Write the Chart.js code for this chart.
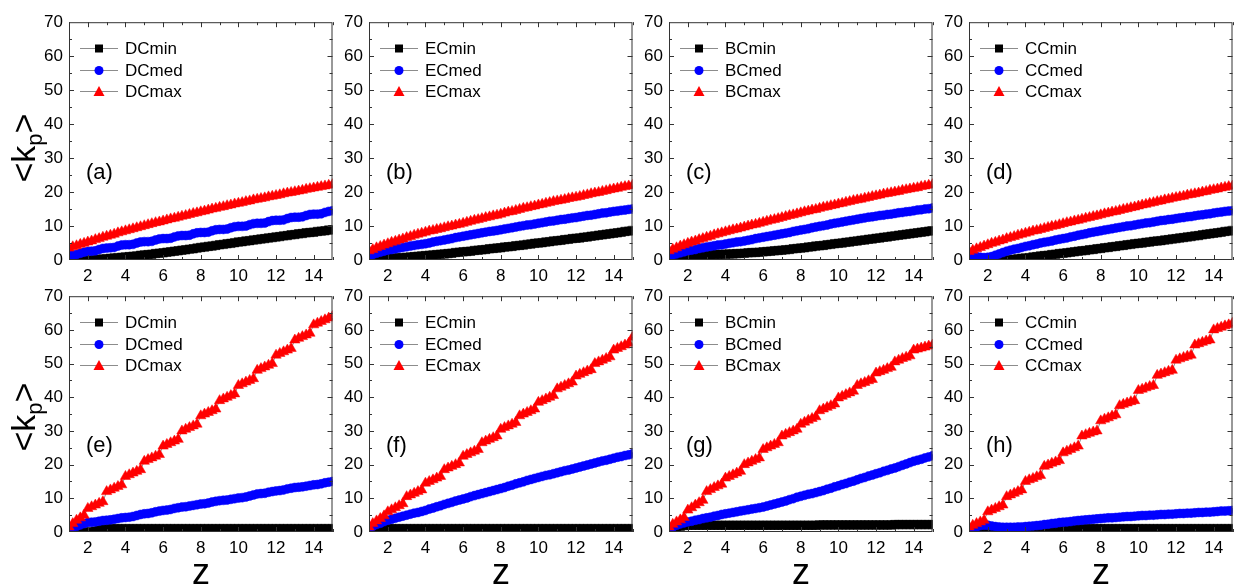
<!DOCTYPE html>
<html>
<head>
<meta charset="utf-8">
<script src="https://cdn.jsdelivr.net/npm/chart.js@4.4.1/dist/chart.umd.min.js"></script>
<style>
  body { margin: 0; background: #fff; width: 1240px; height: 584px; position: relative; overflow: hidden;
         font-family: "Liberation Sans", Arial, sans-serif; }
  canvas { position: absolute; }
  .ytitle { position: absolute; font-size: 34px; white-space: nowrap; color: #000;
            transform: translate(-50%, -50%) rotate(-90deg); }
  .ytitle sub { font-size: 22px; vertical-align: -7px; }
  .xtitle { position: absolute; font-size: 36px; color: #000; transform: translate(-50%, -50%); }
</style>
</head>
<body>
<script>
// z (x axis), 0.2 steps
const zValues = [1,1.2,1.4,1.6,1.8, 2,2.2,2.4,2.6,2.8, 3,3.2,3.4,3.6,3.8, 4,4.2,4.4,4.6,4.8,
  5,5.2,5.4,5.6,5.8, 6,6.2,6.4,6.6,6.8, 7,7.2,7.4,7.6,7.8, 8,8.2,8.4,8.6,8.8,
  9,9.2,9.4,9.6,9.8, 10,10.2,10.4,10.6,10.8, 11,11.2,11.4,11.6,11.8, 12,12.2,12.4,12.6,12.8,
  13,13.2,13.4,13.6,13.8, 14,14.2,14.4,14.6,14.8, 15];

const xTickLabels = [2, 4, 6, 8, 10, 12, 14];
const yTickLabels = [0, 10, 20, 30, 40, 50, 60, 70];

// ---- (a) DC ----
const dcMinA = [0,0,0,0,0, 0,0,0.1,0.2,0.3, 0.4,0.5,0.6,0.7,0.8, 0.9,1.0,1.1,1.2,1.4,
  1.5,1.6,1.7,1.9,2.0, 2.1,2.3,2.4,2.6,2.7, 2.9,3.0,3.2,3.3,3.5, 3.7,3.8,4.0,4.1,4.3,
  4.5,4.6,4.8,4.9,5.1, 5.3,5.4,5.6,5.7,5.9, 6.0,6.2,6.3,6.5,6.6, 6.8,6.9,7.1,7.2,7.4,
  7.5,7.7,7.8,8.0,8.1, 8.2,8.4,8.5,8.6,8.8, 8.9];
const dcMedA = [1.4,1.5,1.6,2.0,2.3, 2.5,2.6,2.7,3.1,3.4, 3.5,3.6,3.7,4.1,4.4, 4.5,4.5,4.6,5.0,5.3,
  5.4,5.4,5.5,5.9,6.2, 6.3,6.3,6.4,6.8,7.1, 7.2,7.2,7.3,7.7,8.0, 8.1,8.1,8.2,8.6,8.9,
  9.0,9.0,9.1,9.5,9.8, 9.9,9.9,10.0,10.4,10.7, 10.8,10.8,10.9,11.3,11.6, 11.7,11.7,11.8,12.2,12.5,
  12.6,12.6,12.7,13.1,13.4, 13.5,13.5,13.6,14.0,14.3, 14.5];
const dcMaxA = [3.5,3.9,4.2,4.6,4.9, 5.3,5.6,6.0,6.3,6.7, 7.0,7.3,7.6,8.0,8.3, 8.6,8.9,9.2,9.5,9.8,
  10.1,10.4,10.7,11.0,11.2, 11.5,11.8,12.1,12.3,12.6, 12.9,13.1,13.4,13.7,13.9, 14.2,14.4,14.7,15.0,15.2,
  15.5,15.7,16.0,16.2,16.5, 16.7,16.9,17.2,17.4,17.7, 17.9,18.1,18.3,18.6,18.8, 19.0,19.2,19.5,19.7,19.9,
  20.1,20.3,20.5,20.8,21.0, 21.2,21.4,21.6,21.8,22.0, 22.2];

// ---- (b) EC ----
const ecMinB = [0.1,0.1,0.2,0.3,0.3, 0.4,0.5,0.6,0.7,0.7, 0.8,0.9,1.0,1.1,1.2, 1.3,1.4,1.5,1.6,1.7,
  1.8,1.9,2.0,2.2,2.3, 2.4,2.5,2.6,2.8,2.9, 3.0,3.1,3.3,3.4,3.5, 3.6,3.8,3.9,4.0,4.2,
  4.3,4.4,4.6,4.7,4.9, 5.0,5.1,5.3,5.4,5.6, 5.7,5.8,6.0,6.1,6.3, 6.4,6.5,6.7,6.8,7.0,
  7.1,7.3,7.4,7.6,7.7, 7.9,8.0,8.2,8.4,8.5, 8.7];
const ecMedB = [1.2,1.6,2.0,2.3,2.6, 2.9,3.1,3.3,3.5,3.7, 3.9,4.1,4.3,4.5,4.6, 4.8,5.0,5.3,5.5,5.7,
  5.9,6.1,6.3,6.6,6.8, 7.0,7.2,7.4,7.6,7.8, 8.0,8.2,8.4,8.5,8.7, 8.9,9.1,9.3,9.5,9.7,
  9.9,10.1,10.3,10.4,10.6, 10.8,11.0,11.2,11.4,11.5, 11.7,11.9,12.0,12.2,12.4, 12.5,12.7,12.9,13.1,13.2,
  13.4,13.6,13.8,13.9,14.1, 14.3,14.4,14.6,14.7,14.9, 15.0];
const ecMaxB = [2.7,3.1,3.6,4.0,4.4, 4.8,5.2,5.5,5.9,6.2, 6.6,6.9,7.3,7.6,7.9, 8.2,8.5,8.7,9.0,9.2,
  9.5,9.8,10.0,10.3,10.5, 10.8,11.1,11.4,11.7,11.9, 12.2,12.5,12.7,13.0,13.2, 13.5,13.8,14.1,14.3,14.6,
  14.9,15.2,15.4,15.7,15.9, 16.2,16.4,16.7,16.9,17.2, 17.4,17.6,17.8,18.1,18.3, 18.5,18.7,19.0,19.2,19.5,
  19.7,19.9,20.2,20.4,20.7, 20.9,21.1,21.4,21.6,21.8, 22.0];

// ---- (c) BC ----
const bcMinC = [1.2,1.2,1.3,1.3,1.4, 1.4,1.4,1.4,1.5,1.5, 1.5,1.5,1.6,1.6,1.7, 1.7,1.8,1.8,1.9,1.9,
  2.0,2.1,2.2,2.2,2.3, 2.4,2.5,2.6,2.7,2.8, 2.9,3.0,3.1,3.3,3.4, 3.5,3.6,3.8,3.9,4.1,
  4.2,4.3,4.5,4.6,4.8, 4.9,5.0,5.2,5.3,5.5, 5.6,5.8,5.9,6.1,6.2, 6.4,6.5,6.7,6.8,7.0,
  7.1,7.3,7.4,7.6,7.7, 7.9,8.0,8.2,8.3,8.5, 8.6];
const bcMedC = [1.2,1.5,1.8,2.1,2.4, 2.7,2.9,3.1,3.4,3.6, 3.8,4.0,4.2,4.4,4.5, 4.7,4.9,5.1,5.3,5.4,
  5.6,5.8,6.0,6.3,6.5, 6.7,6.9,7.1,7.3,7.5, 7.7,7.9,8.1,8.4,8.6, 8.8,9.0,9.2,9.5,9.7,
  9.9,10.1,10.3,10.6,10.8, 11.0,11.2,11.4,11.6,11.8, 12.0,12.2,12.4,12.6,12.7, 12.9,13.1,13.2,13.4,13.5,
  13.7,13.9,14.0,14.2,14.3, 14.5,14.7,14.8,15.0,15.1, 15.3];
const bcMaxC = [2.7,3.2,3.6,4.1,4.5, 4.9,5.3,5.6,6.0,6.3, 6.7,7.0,7.4,7.7,8.0, 8.3,8.6,8.9,9.1,9.4,
  9.7,10.0,10.3,10.5,10.8, 11.1,11.4,11.7,11.9,12.2, 12.5,12.8,13.1,13.3,13.6, 13.9,14.2,14.4,14.7,14.9,
  15.2,15.5,15.7,16.0,16.2, 16.5,16.7,17.0,17.2,17.5, 17.7,17.9,18.2,18.4,18.7, 18.9,19.1,19.4,19.6,19.8,
  20.0,20.2,20.5,20.7,20.9, 21.1,21.3,21.6,21.8,22.0, 22.2];

// ---- (d) CC ----
const ccMinD = [0,0,0,0,0, 0,0,0,0,0, 0,0.1,0.2,0.4,0.5, 0.6,0.7,0.9,1.0,1.2,
  1.3,1.4,1.6,1.7,1.9, 2.0,2.1,2.3,2.4,2.6, 2.7,2.8,3.0,3.1,3.3, 3.4,3.6,3.7,3.9,4.0,
  4.2,4.3,4.5,4.6,4.8, 4.9,5.0,5.2,5.3,5.5, 5.6,5.7,5.9,6.0,6.2, 6.3,6.5,6.6,6.8,6.9,
  7.1,7.2,7.4,7.6,7.7, 7.9,8.0,8.2,8.4,8.5, 8.7];
const ccMedD = [1.5,1.2,1.0,0.8,0.7, 0.8,1.0,1.4,1.8,2.2, 2.6,2.9,3.2,3.4,3.7, 4.0,4.2,4.5,4.7,5.0,
  5.2,5.4,5.6,5.9,6.1, 6.3,6.5,6.8,7.0,7.3, 7.5,7.7,8.0,8.2,8.4, 8.6,8.8,9.0,9.2,9.4,
  9.6,9.8,10.0,10.1,10.3, 10.5,10.7,10.9,11.0,11.2, 11.4,11.6,11.7,11.9,12.0, 12.2,12.4,12.5,12.7,12.8,
  13.0,13.2,13.3,13.5,13.6, 13.8,14.0,14.1,14.3,14.4, 14.5];
const ccMaxD = [2.5,2.9,3.3,3.7,4.1, 4.5,4.9,5.2,5.6,5.9, 6.3,6.6,6.9,7.3,7.6, 7.9,8.2,8.5,8.7,9.0,
  9.3,9.6,9.9,10.1,10.4, 10.7,11.0,11.2,11.5,11.7, 12.0,12.3,12.5,12.8,13.0, 13.3,13.6,13.8,14.1,14.3,
  14.6,14.9,15.1,15.4,15.6, 15.9,16.2,16.4,16.7,16.9, 17.2,17.4,17.7,17.9,18.2, 18.4,18.6,18.8,19.1,19.3,
  19.5,19.7,20.0,20.2,20.5, 20.7,20.9,21.2,21.4,21.6, 21.8];

// ---- (e) DC ----
const dcMinE = [0,0,0,0,0, 0,0,0.3,0.5,0.8, 1,1,1,1,1, 1,1,1,1,1,
  1,1,1,1,1, 1,1,1,1,1, 1,1,1,1,1, 1,1,1,1,1,
  1,1,1,1,1, 1,1,1,1,1, 1,1,1,1,1, 1,1,1,1,1,
  1,1,1,1,1, 1,1,1,1,1, 1];
const dcMedE = [1.0,1.3,1.7,2.1,2.5, 2.8,2.9,3.0,3.2,3.4, 3.5,3.6,3.8,4.0,4.2, 4.3,4.4,4.6,4.9,5.2,
  5.4,5.5,5.7,6.0,6.2, 6.4,6.5,6.7,7.0,7.2, 7.4,7.5,7.7,7.9,8.1, 8.3,8.4,8.6,8.9,9.1,
  9.3,9.4,9.5,9.7,9.9, 10.1,10.2,10.4,10.7,11.0, 11.3,11.4,11.5,11.8,12.0, 12.2,12.3,12.5,12.8,13.0,
  13.2,13.3,13.4,13.6,13.8, 14.0,14.1,14.3,14.6,14.8, 15.0];
const dcMaxE = [1.5,2.5,3.5,4.2,5.0, 7.0,7.5,8.0,8.5,9.0, 12.0,12.5,13.0,13.5,14.0, 16.5,17.0,17.5,18.0,18.5,
  21.0,21.5,22.0,22.5,23.0, 25.5,26.0,26.5,27.0,27.5, 30.0,30.5,31.0,31.5,32.0, 34.5,35.0,35.5,36.0,36.5,
  39.0,39.5,40.0,40.5,41.0, 43.5,44.0,44.5,45.0,45.5, 48.0,48.5,49.0,49.5,50.0, 52.5,53.0,53.5,54.0,54.5,
  57.0,57.5,58.0,58.5,59.0, 61.5,62.0,62.5,63.0,63.5, 64.0];

// ---- (f) EC ----
const ecMinF = [0.2,0.4,0.6,0.8,0.9, 1,1,1,1,1, 1,1,1,1,1, 1,1,1,1,1,
  1,1,1,1,1, 1,1,1,1,1, 1,1,1,1,1, 1,1,1,1,1,
  1,1,1,1,1, 1,1,1,1,1, 1,1,1,1,1, 1,1,1,1,1,
  1,1,1,1,1, 1,1,1,1,1, 1];
const ecMedF = [1.2,1.7,2.2,2.6,3.1, 3.5,3.8,4.1,4.4,4.7, 5.0,5.3,5.6,5.8,6.1, 6.4,6.8,7.1,7.5,7.8,
  8.2,8.5,8.8,9.2,9.5, 9.8,10.1,10.5,10.8,11.1, 11.4,11.7,12.0,12.3,12.6, 12.9,13.2,13.6,13.9,14.3,
  14.6,14.9,15.3,15.6,15.9, 16.2,16.5,16.8,17.0,17.3, 17.6,17.9,18.2,18.4,18.7, 19.0,19.3,19.6,19.9,20.2,
  20.5,20.8,21.1,21.3,21.6, 21.9,22.2,22.4,22.7,22.9, 23.2];
const ecMaxF = [1.5,2.5,3.3,4.0,4.8, 6.0,6.6,7.2,7.8,8.4, 10.5,11.0,11.5,12.0,12.5, 14.5,15.0,15.5,16.0,16.5,
  18.5,19.0,19.5,20.0,20.5, 22.5,23.0,23.5,24.0,24.5, 26.5,27.0,27.5,28.0,28.5, 30.5,31.0,31.5,32.0,32.5,
  34.5,35.0,35.5,36.0,36.5, 38.5,39.0,39.5,40.0,40.5, 42.5,43.0,43.5,44.0,44.5, 46.3,46.8,47.3,47.8,48.2,
  50.0,50.5,51.0,51.5,52.0, 54.0,54.5,55.0,55.5,56.0, 57.8];

// ---- (g) BC ----
const bcMinG = [1.0,1.3,1.5,1.7,1.9, 2,2,2,2,2, 2,2,2,2,2, 2,2,2,2,2,
  2,2,2,2,2, 2,2,2,2,2, 2,2,2,2,2, 2,2,2,2,2,
  2.1,2.1,2.1,2.1,2.1, 2.1,2.1,2.1,2.1,2.1, 2.1,2.1,2.1,2.1,2.1, 2.1,2.1,2.1,2.1,2.1,
  2.2,2.2,2.2,2.2,2.2, 2.2,2.2,2.2,2.2,2.2, 2.2];
const bcMedG = [1.0,1.5,2.0,2.4,2.7, 3.0,3.2,3.5,3.7,4.0, 4.2,4.4,4.7,4.9,5.2, 5.4,5.6,5.8,6.0,6.2,
  6.4,6.6,6.8,7.0,7.2, 7.4,7.7,8.0,8.3,8.6, 8.9,9.2,9.6,9.9,10.3, 10.6,10.9,11.2,11.4,11.7,
  12.0,12.3,12.7,13.0,13.4, 13.7,14.1,14.4,14.8,15.1, 15.5,15.9,16.2,16.6,16.9, 17.3,17.6,18.0,18.3,18.7,
  19.0,19.4,19.8,20.2,20.6, 21.0,21.3,21.6,22.0,22.3, 22.6];
const bcMaxG = [1.5,2.3,3.0,3.6,4.3, 6.5,7.2,8.0,8.7,9.4, 12.0,12.6,13.2,13.7,14.2, 16.0,16.5,17.0,17.5,18.0,
  20.0,20.5,21.0,21.5,22.0, 24.5,25.0,25.5,26.0,26.5, 28.5,29.0,29.5,30.0,30.5, 32.0,32.6,33.2,33.7,34.2,
  36.0,36.5,37.0,37.5,38.0, 39.8,40.3,40.8,41.3,41.8, 43.5,44.0,44.4,44.9,45.3, 47.2,47.6,48.0,48.5,48.9,
  50.5,51.0,51.5,51.9,52.3, 54.0,54.3,54.6,54.9,55.2, 55.5];

// ---- (h) CC ----
const ccMinH = [0,0,0,0,0, 0,0,0,0,0, 0,0,0,0,0, 0,0,0,0.1,0.2,
  0.3,0.4,0.4,0.5,0.6, 0.6,0.7,0.8,0.8,0.9, 1,1,1,1,1, 1,1,1,1,1,
  1,1,1,1,1, 1,1,1,1,1, 1,1,1,1,1, 1,1,1,1,1,
  1,1,1,1,1, 1,1,1,1,1, 1];
const ccMedH = [0.5,1.0,1.5,1.9,2.0, 2.0,1.8,1.6,1.5,1.4, 1.4,1.4,1.4,1.5,1.5, 1.6,1.7,1.8,1.9,2.0,
  2.2,2.3,2.5,2.6,2.8, 2.9,3.0,3.1,3.3,3.4, 3.5,3.6,3.7,3.8,3.9, 4.0,4.1,4.2,4.2,4.3,
  4.4,4.5,4.6,4.6,4.7, 4.8,4.9,4.9,5.0,5.0, 5.1,5.2,5.2,5.3,5.3, 5.4,5.5,5.5,5.6,5.6,
  5.7,5.8,5.8,5.9,5.9, 6.0,6.1,6.2,6.2,6.3, 6.4];
const ccMaxH = [1.5,2.0,2.5,3.0,3.5, 6.0,6.5,7.0,7.5,8.0, 10.5,11.0,11.5,12.0,12.5, 15.0,15.5,15.9,16.4,16.8,
  19.5,19.9,20.4,20.8,21.2, 23.5,24.0,24.5,25.0,25.5, 28.5,28.9,29.3,29.7,30.0, 33.0,33.5,33.9,34.4,34.8,
  37.5,37.9,38.3,38.7,39.0, 42.0,42.4,42.8,43.2,43.5, 46.5,46.9,47.3,47.7,48.0, 51.0,51.4,51.8,52.2,52.5,
  55.5,55.9,56.3,56.7,57.0, 60.0,60.4,60.8,61.2,61.5, 62.0];

const panels = [
  { letter: '(a)', names: ['DCmin', 'DCmed', 'DCmax'], series: [dcMinA, dcMedA, dcMaxA], col: 0, row: 0 },
  { letter: '(b)', names: ['ECmin', 'ECmed', 'ECmax'], series: [ecMinB, ecMedB, ecMaxB], col: 1, row: 0 },
  { letter: '(c)', names: ['BCmin', 'BCmed', 'BCmax'], series: [bcMinC, bcMedC, bcMaxC], col: 2, row: 0 },
  { letter: '(d)', names: ['CCmin', 'CCmed', 'CCmax'], series: [ccMinD, ccMedD, ccMaxD], col: 3, row: 0 },
  { letter: '(e)', names: ['DCmin', 'DCmed', 'DCmax'], series: [dcMinE, dcMedE, dcMaxE], col: 0, row: 1 },
  { letter: '(f)', names: ['ECmin', 'ECmed', 'ECmax'], series: [ecMinF, ecMedF, ecMaxF], col: 1, row: 1 },
  { letter: '(g)', names: ['BCmin', 'BCmed', 'BCmax'], series: [bcMinG, bcMedG, bcMaxG], col: 2, row: 1 },
  { letter: '(h)', names: ['CCmin', 'CCmed', 'CCmax'], series: [ccMinH, ccMedH, ccMaxH], col: 3, row: 1 }
];

// marker look for min / med / max
const markerStyles = ['rect', 'circle', 'triangle'];
const markerColors = ['#000000', '#0000ff', '#ff0000'];
const markerRadius = [6, 4.5, 6];

// layout of the plot boxes (px)
const colLeft = [69, 369, 669, 969];
const plotW = 264;
const rowTop = [18, 292];
const rowH = [242, 240];
const padL = 50, padT = 12, padR = 6, padB = 28;

// frame, inward ticks, legend and panel letter
const decor = {
  id: 'decor',
  afterDatasetsDraw(chart, args, opts) {
    const ctx = chart.ctx;
    const a = chart.chartArea;
    const x = chart.scales.x, y = chart.scales.y;
    ctx.save();
    ctx.strokeStyle = '#333';
    ctx.lineWidth = 1;
    ctx.strokeRect(a.left + 0.5, a.top + 0.5, a.right - a.left - 1, a.bottom - a.top - 1);

    ctx.beginPath();
    for (let v = 1; v <= 15; v++) {
      const px = Math.round(x.getPixelForValue(v)) + 0.5;
      const len = v % 2 === 0 ? 5 : 3;
      ctx.moveTo(px, a.bottom); ctx.lineTo(px, a.bottom - len);
      ctx.moveTo(px, a.top); ctx.lineTo(px, a.top + len);
    }
    for (let v = 5; v < 70; v += 5) {
      const py = Math.round(y.getPixelForValue(v)) + 0.5;
      const len = v % 10 === 0 ? 5 : 3;
      ctx.moveTo(a.left, py); ctx.lineTo(a.left + len, py);
      ctx.moveTo(a.right, py); ctx.lineTo(a.right - len, py);
    }
    ctx.stroke();

    // legend
    ctx.font = '17px "Liberation Sans", Arial, sans-serif';
    ctx.textBaseline = 'middle';
    chart.data.datasets.forEach((ds, i) => {
      const ly = Math.round(a.top + 26 + i * 21.5) + 0.5;
      const mx = a.left + 30;
      ctx.strokeStyle = '#8c8c8c';
      ctx.lineWidth = 1;
      ctx.beginPath();
      ctx.moveTo(a.left + 11, ly); ctx.lineTo(a.left + 49, ly);
      ctx.stroke();
      ctx.fillStyle = markerColors[i];
      ctx.beginPath();
      if (i === 0) {
        ctx.rect(mx - 4, ly - 4, 8, 8);
      } else if (i === 1) {
        ctx.arc(mx, ly, 4.5, 0, Math.PI * 2);
      } else {
        ctx.moveTo(mx, ly - 5.5); ctx.lineTo(mx + 5.5, ly + 4.5); ctx.lineTo(mx - 5.5, ly + 4.5); ctx.closePath();
      }
      ctx.fill();
      ctx.fillStyle = '#000';
      ctx.fillText(ds.label, a.left + 56, ly + 1);
    });

    // panel letter
    ctx.font = '22px "Liberation Sans", Arial, sans-serif';
    ctx.fillStyle = '#000';
    ctx.fillText(opts.letter, a.left + 17, y.getPixelForValue(25.5));
    ctx.restore();
  }
};

function makePanel(p) {
  const canvas = document.createElement('canvas');
  const w = padL + plotW + padR;
  const h = padT + rowH[p.row] + padB;
  canvas.width = w; canvas.height = h;
  canvas.style.left = (colLeft[p.col] - padL) + 'px';
  canvas.style.top = (rowTop[p.row] - padT) + 'px';
  canvas.style.width = w + 'px'; canvas.style.height = h + 'px';
  document.body.appendChild(canvas);

  const datasets = p.series.map((vals, i) => ({
    label: p.names[i],
    data: zValues.map((z, k) => ({ x: z, y: vals[k] })),
    showLine: true,
    borderColor: '#8c8c8c',
    borderWidth: 1,
    pointStyle: markerStyles[i],
    pointRadius: markerRadius[i],
    pointBackgroundColor: markerColors[i],
    pointBorderColor: markerColors[i],
    pointBorderWidth: 0.5,
    order: 2 - i
  }));

  new Chart(canvas, {
    type: 'scatter',
    data: { datasets },
    options: {
      responsive: false,
      animation: false,
      devicePixelRatio: 1,
      layout: { padding: { left: 0, top: padT, right: padR, bottom: 0 } },
      plugins: { legend: { display: false }, tooltip: { enabled: false }, decor: { letter: p.letter } },
      scales: {
        x: {
          type: 'linear', min: 1, max: 15,
          grid: { display: false, drawTicks: false },
          border: { display: false },
          afterBuildTicks: s => { s.ticks = xTickLabels.map(v => ({ value: v })); },
          afterFit: s => { s.height = padB; },
          ticks: { color: '#000', padding: 6, maxRotation: 0, autoSkip: false,
                   font: { size: 17, family: '"Liberation Sans", Arial, sans-serif' } }
        },
        y: {
          type: 'linear', min: 0, max: 70,
          grid: { display: false, drawTicks: false },
          border: { display: false },
          afterBuildTicks: s => { s.ticks = yTickLabels.map(v => ({ value: v })); },
          afterFit: s => { s.width = padL; },
          ticks: { color: '#000', padding: 6,
                   font: { size: 17, family: '"Liberation Sans", Arial, sans-serif' } }
        }
      }
    },
    plugins: [decor]
  });
}

panels.forEach(makePanel);

// axis titles
[148, 417].forEach(cy => {
  const d = document.createElement('div');
  d.className = 'ytitle';
  d.style.left = '26px';
  d.style.top = cy + 'px';
  d.innerHTML = '&lt;k<sub>p</sub>&gt;';
  document.body.appendChild(d);
});
colLeft.forEach(l => {
  const d = document.createElement('div');
  d.className = 'xtitle';
  d.style.left = (l + plotW / 2) + 'px';
  d.style.top = '572px';
  d.textContent = 'z';
  document.body.appendChild(d);
});
</script>
</body>
</html>
